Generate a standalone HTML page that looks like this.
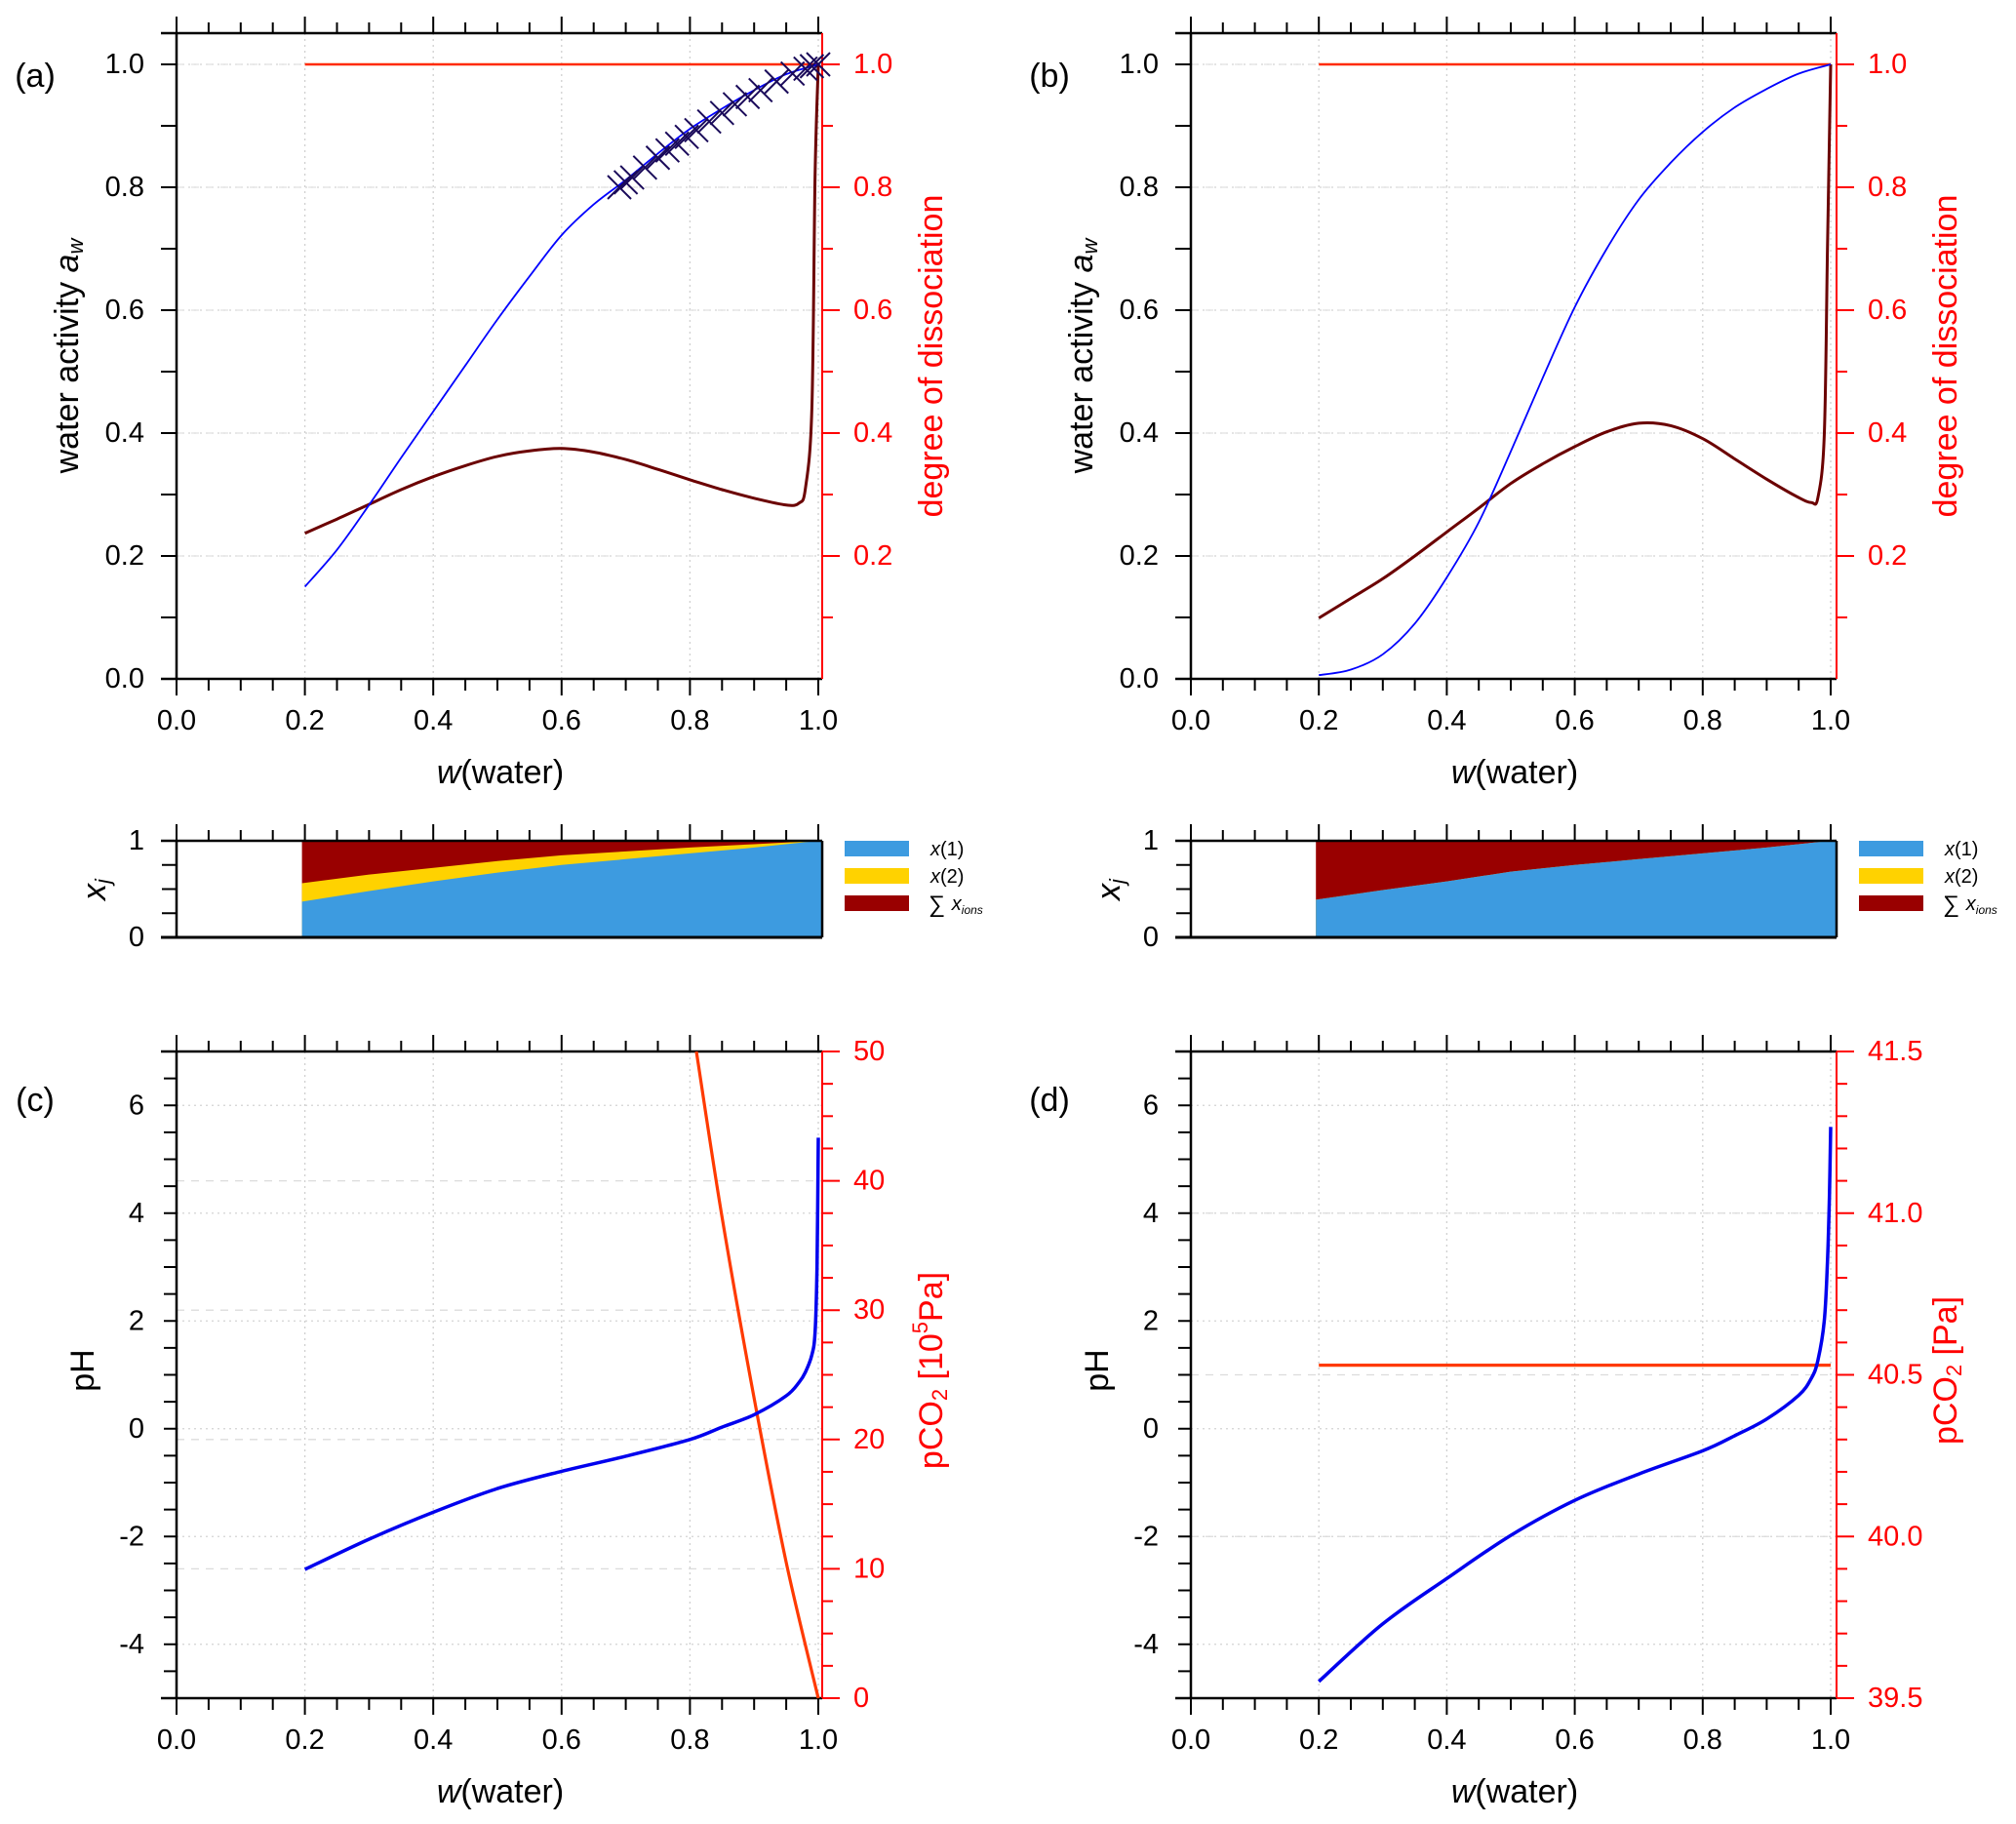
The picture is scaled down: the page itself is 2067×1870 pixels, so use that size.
<!DOCTYPE html>
<html><head><meta charset="utf-8"><style>
html,body{margin:0;padding:0;background:#fff}
svg{display:block}
text{font-family:"Liberation Sans",Arial,sans-serif}
</style></head><body>
<svg id="fig" width="2067" height="1870" viewBox="0 0 2067 1870" xmlns="http://www.w3.org/2000/svg"></svg>
<script>
// ---------- data ----------
const wA = [0.2,0.25,0.3,0.35,0.4,0.45,0.5,0.55,0.6,0.65,0.7,0.75,0.8,0.85,0.9,0.95,1.0];
const awA = [0.15,0.21,0.283,0.36,0.435,0.51,0.585,0.655,0.722,0.772,0.812,0.855,0.895,0.928,0.958,0.984,1.0];
const wMeasA = [0.69,0.70,0.71,0.73,0.75,0.765,0.78,0.795,0.81,0.83,0.85,0.87,0.89,0.91,0.935,0.96,0.98,0.99,1.0];
const awMeasA = [0.80,0.808,0.816,0.832,0.848,0.86,0.871,0.882,0.893,0.907,0.921,0.935,0.947,0.958,0.972,0.985,0.993,0.997,1.0];
const wDissA = [0.2,0.25,0.3,0.35,0.4,0.45,0.5,0.55,0.6,0.65,0.7,0.75,0.8,0.85,0.9,0.95,0.97,0.98,0.99,0.995,1.0];
const dissA = [0.237,0.26,0.284,0.308,0.329,0.347,0.362,0.371,0.375,0.369,0.357,0.341,0.324,0.308,0.294,0.283,0.286,0.31,0.44,0.82,1.0];
const wB = [0.2,0.25,0.3,0.35,0.4,0.45,0.5,0.55,0.6,0.65,0.7,0.75,0.8,0.85,0.9,0.95,1.0];
const awB = [0.006,0.015,0.04,0.09,0.165,0.255,0.37,0.49,0.605,0.7,0.78,0.84,0.89,0.93,0.96,0.985,1.0];
const wDissB = [0.2,0.25,0.3,0.35,0.4,0.45,0.5,0.55,0.6,0.65,0.7,0.75,0.8,0.85,0.9,0.95,0.97,0.98,0.99,0.995,1.0];
const dissB = [0.099,0.131,0.163,0.2,0.239,0.278,0.318,0.35,0.378,0.402,0.416,0.412,0.391,0.358,0.325,0.295,0.287,0.295,0.396,0.7,1.0];
const wDeg = [0.2,1.0];
const degA = [1.0,1.0];
const degB = [1.0,1.0];
const wBar = [0.2,0.3,0.4,0.5,0.6,0.7,0.8,0.9,1.0];
const x1A = [0.37,0.48,0.58,0.67,0.75,0.81,0.87,0.93,1.0];
const x2A = [0.19,0.17,0.14,0.12,0.1,0.08,0.06,0.035,0.0];
const x1B = [0.39,0.49,0.58,0.68,0.75,0.81,0.87,0.93,1.0];
const x2B = [0,0,0,0,0,0,0,0,0];
const wPH = [0.2,0.3,0.4,0.5,0.6,0.7,0.8,0.85,0.9,0.95,0.97,0.98,0.99,0.995,0.998,1.0];
const pHC = [-2.61,-2.05,-1.55,-1.11,-0.79,-0.51,-0.2,0.03,0.26,0.61,0.86,1.05,1.37,1.79,3.0,5.4];
const pHD = [-4.69,-3.62,-2.78,-1.98,-1.33,-0.84,-0.41,-0.13,0.18,0.62,0.94,1.27,2.0,3.1,4.3,5.6];
const wCO2C = [0.81,0.85,0.9,0.95,1.0];
const co2C = [50,37.2,23.2,10.5,0];
const wCO2D = [0.2,1.0];
const co2D = [40.53,40.53];
const xTicks = ["0.0","0.2","0.4","0.6","0.8","1.0"];
const awTicks = ["0.0","0.2","0.4","0.6","0.8","1.0"];
const degTicks = ["0.2","0.4","0.6","0.8","1.0"];
const pHTicks = ["-4","-2","0","2","4","6"];
const co2CTicks = ["0","10","20","30","40","50"];
const co2DTicks = ["39.5","40.0","40.5","41.0","41.5"];

// ---------- helpers ----------
const NS="http://www.w3.org/2000/svg";
const svg=document.getElementById('fig');
function el(tag,attrs,parent){const e=document.createElementNS(NS,tag);for(const k in attrs)e.setAttribute(k,attrs[k]);(parent||svg).appendChild(e);return e;}
function txt(s,x,y,size,fill,anchor,parent,extra){const t=el('text',Object.assign({x:x,y:y,'font-size':size,fill:fill,'text-anchor':anchor||'middle','dominant-baseline':'central'},extra||{}),parent);t.textContent=s;return t;}
function line(x1,y1,x2,y2,stroke,w,parent,dash){const a={x1:x1,y1:y1,x2:x2,y2:y2,stroke:stroke,'stroke-width':w};if(dash)a['stroke-dasharray']=dash;return el('line',a,parent);}
function pathFrom(xs,ys,X,Y){
  const p=xs.map((x,i)=>[X(x),Y(ys[i])]);
  if(p.length<3){return 'M'+p.map(q=>q[0].toFixed(1)+','+q[1].toFixed(1)).join('L');}
  let d='M'+p[0][0].toFixed(1)+','+p[0][1].toFixed(1);
  for(let i=0;i<p.length-1;i++){
    const p0=p[Math.max(0,i-1)],p1=p[i],p2=p[i+1],p3=p[Math.min(p.length-1,i+2)];
    const c1=[p1[0]+(p2[0]-p0[0])/6,p1[1]+(p2[1]-p0[1])/6];
    const c2=[p2[0]-(p3[0]-p1[0])/6,p2[1]-(p3[1]-p1[1])/6];
    d+='C'+c1[0].toFixed(1)+','+c1[1].toFixed(1)+' '+c2[0].toFixed(1)+','+c2[1].toFixed(1)+' '+p2[0].toFixed(1)+','+p2[1].toFixed(1);
  }
  return d;
}

const panels={A:{x0:181,k:658,spine:843},B:{x0:1221,k:656,spine:1883}};
const TF=29, TT=34;
function topAxis(P,yTop,g){
  for(let i=0;i<=20;i++){const w=i*0.05;const x=P.x0+P.k*w;line(x,yTop,x,yTop-(i%4==0?17:11),'#000',2,g);}
  line(P.x0-16,yTop,P.spine,yTop,'#000',2.5,g);
}
function bottomAxis(P,yB,g){
  for(let i=0;i<=20;i++){const w=i*0.05;const x=P.x0+P.k*w;line(x,yB,x,yB+(i%4==0?17:12),'#000',2,g);}
  line(P.x0-16,yB,P.spine,yB,'#000',2.5,g);
  xTicks.forEach(s=>{const x=P.x0+P.k*parseFloat(s);txt(s,x,yB+43,TF,'#000','middle',g);});
  const t=el('text',{x:P.x0+332,y:yB+96,'font-size':TT,'text-anchor':'middle','dominant-baseline':'central',fill:'#000'},g);
  
  const a=el('tspan',{'font-style':'italic'},t);a.textContent='w';const b=el('tspan',{},t);b.textContent='(water)';
}
function vgrid(P,yT,yB,g){for(let i=1;i<=5;i++){const x=P.x0+P.k*i*0.2;line(x,yT,x,yB,'#d0d0d0',1.3,g,'2,4');}}

// ---------- top panels ----------
function topPanel(P,key,aw,wAw,wD,diss,deg,label,meas){
  const g=el('g',{});
  
  
  const Y=v=>696-630*v, X=w=>P.x0+P.k*w;
  vgrid(P,34,696,g);
  for(let i=1;i<=5;i++){line(P.x0,Y(i*0.2),P.spine,Y(i*0.2),'#d4d4d4',1.3,g,'2,4');}
  for(let i=1;i<=5;i++){line(P.x0,Y(i*0.2),P.spine,Y(i*0.2),'#e0e0e0',1.3,g,'8,7');}
  topAxis(P,34,g);bottomAxis(P,696,g);
  line(P.x0,34,P.x0,696,'#000',2.5,g);
  for(let i=0;i<=10;i++){line(P.x0-16,Y(i*0.1),P.x0,Y(i*0.1),'#000',2,g);}
  awTicks.forEach(s=>{txt(s,P.x0-33,Y(parseFloat(s)),TF,'#000','end',g);});
  line(P.spine,34,P.spine,696,'#ff0000',2,g);
  for(let i=1;i<=10;i++){line(P.spine,Y(i*0.1),P.spine+(i%2==0?18:11),Y(i*0.1),'#ff0000',2,g);}
  degTicks.forEach(s=>{txt(s,P.spine+32,Y(parseFloat(s)),TF,'#ff0000','start',g);});
  const yt=el('text',{x:0,y:0,'font-size':TT,'text-anchor':'middle','dominant-baseline':'central',fill:'#000',transform:`translate(${P.x0-112},365) rotate(-90)`},g);
  
  let s1=el('tspan',{},yt);s1.textContent='water activity ';let s2=el('tspan',{'font-style':'italic'},yt);s2.textContent='a';
  let s3=el('tspan',{'font-style':'italic','font-size':22,dy:8},yt);s3.textContent='w';
  const rt=txt('degree of dissociation',0,0,TT,'#ff0000','middle',g,{transform:`translate(${P.spine+112},365) rotate(-90)`});
  
  const pl=txt('('+label+')',P.x0-145,78,34,'#000','middle',g);
  const red=el('path',{d:pathFrom(wDeg,deg,X,Y),stroke:'#ff2a00','stroke-width':2.5,fill:'none'},g);
  
  const br=el('path',{d:pathFrom(wD,diss,X,Y),stroke:'#6b0000','stroke-width':3,fill:'none','stroke-linejoin':'round'},g);
  
  const bl=el('path',{d:pathFrom(wAw,aw,X,Y),stroke:'#0000ff','stroke-width':1.8,fill:'none','stroke-linejoin':'round'},g);
  
  if(meas){meas[0].forEach((w,i)=>{const x=X(w),y=Y(meas[1][i]);
    const m=el('path',{d:`M${x-12},${y-12}L${x+12},${y+12}M${x+12},${y-12}L${x-12},${y+12}`,stroke:'#1a0a5a','stroke-width':2,fill:'none'},g);
    });}
}
topPanel(panels.A,'A',awA,wA,wDissA,dissA,degA,'a',[wMeasA,awMeasA]);
topPanel(panels.B,'B',awB,wB,wDissB,dissB,degB,'b',null);

// ---------- bar panels ----------
function barPanel(P,x1,x2){
  const g=el('g',{});
  
  
  const Y=v=>961-99*v, X=w=>P.x0+P.k*w;
  const xStart=X(wBar[0])-3;
  const ions=el('rect',{x:xStart,y:Y(1),width:P.spine-xStart,height:99,fill:'#990000'},g);
  
  let dY='M'+xStart+','+Y(0);
  wBar.forEach((w,i)=>{dY+='L'+(i==0?xStart:X(w))+','+Y(x1[i]+x2[i]);});
  dY+='L'+P.spine+','+Y(x1[x1.length-1]+x2[x2.length-1])+'L'+P.spine+','+Y(0)+'Z';
  const ye=el('path',{d:dY,fill:'#ffd200'},g);
  let dB='M'+xStart+','+Y(0);
  wBar.forEach((w,i)=>{dB+='L'+(i==0?xStart:X(w))+','+Y(x1[i]);});
  dB+='L'+P.spine+','+Y(x1[x1.length-1])+'L'+P.spine+','+Y(0)+'Z';
  const bl=el('path',{d:dB,fill:'#3d9be0'},g);
  topAxis(P,862,g);
  line(P.x0-16,961,P.spine,961,'#000',3,g);
  line(P.x0,862,P.x0,961,'#000',2.5,g);line(P.spine,862,P.spine,961,'#000',2.5,g);
  for(let i=0;i<=4;i++){line(P.x0-15,Y(i*0.25),P.x0,Y(i*0.25),'#000',2,g);}
  txt('1',P.x0-33,Y(1),TF,'#000','end',g);
  txt('0',P.x0-33,Y(0),TF,'#000','end',g);
  const t=el('text',{x:0,y:0,'font-size':TT,'text-anchor':'middle','dominant-baseline':'central',fill:'#000',transform:`translate(${P.x0-84},912) rotate(-90)`},g);
  
  let a=el('tspan',{'font-style':'italic'},t);a.textContent='x';let b=el('tspan',{'font-style':'italic','font-size':22,dy:8},t);b.textContent='j';
  const lx=P.x0+685;const items=[['#3d9be0','x(1)'],['#ffd200','x(2)'],['#990000','ions']];
  items.forEach((it,i)=>{const y=862+28*i;
    const r=el('rect',{x:lx,y:y,width:66,height:16,fill:it[0]},g);
    const tt=el('text',{x:lx+(i==2?86:88),y:y+9,'font-size':20,'dominant-baseline':'central',fill:'#000'},g);
    
    if(i<2){const s=el('tspan',{'font-style':'italic'},tt);s.textContent='x';const s2=el('tspan',{},tt);s2.textContent=it[1].slice(1);}
    else{const s=el('tspan',{'font-size':24},tt);s.textContent='∑ ';const s2=el('tspan',{'font-style':'italic'},tt);s2.textContent='x';const s3=el('tspan',{'font-style':'italic','font-size':12,dy:6},tt);s3.textContent='ions';}
  });
}
barPanel(panels.A,x1A,x2A);
barPanel(panels.B,x1B,x2B);

// ---------- bottom panels ----------
function bottomPanel(P,pH,wC,co2,R,rTicks,rStep,rMajor,label,rTitleSup){
  const g=el('g',{});
  
  
  const T=1078,B=1741;
  const Y=v=>B-(v+5)*(B-T)/12, X=w=>P.x0+P.k*w;
  const YR=v=>B-(v-R[0])*((B-T)/(R[1]-R[0]));
  vgrid(P,T,B,g);
  pHTicks.forEach(s=>{line(P.x0,Y(+s),P.spine,Y(+s),'#d4d4d4',1.3,g,'2,4');});
  rTicks.forEach(s=>{const v=parseFloat(s);if(v>R[0]&&v<R[1])line(P.x0,YR(v),P.spine,YR(v),'#dcdcdc',1.3,g,'8,7');});
  topAxis(P,T,g);bottomAxis(P,B,g);
  line(P.x0,T,P.x0,B,'#000',2.5,g);
  for(let v=-5;v<=7.001;v+=0.5){line(P.x0-13,Y(v),P.x0,Y(v),'#000',2,g);}
  pHTicks.forEach(s=>{txt(s,P.x0-33,Y(+s),TF,'#000','end',g);});
  line(P.spine,T,P.spine,B,'#ff0000',2,g);
  const n=Math.round((R[1]-R[0])/rStep);
  for(let i=0;i<=n;i++){const v=R[0]+i*rStep;const maj=Math.abs(v/rMajor-Math.round(v/rMajor))<1e-6;line(P.spine,YR(v),P.spine+(maj?18:11),YR(v),'#ff0000',2,g);}
  rTicks.forEach(s=>{txt(s,P.spine+32,YR(parseFloat(s)),TF,'#ff0000','start',g);});
  txt('pH',0,0,TT,'#000','middle',g,{transform:`translate(${P.x0-96},1405) rotate(-90)`});
  const rt=el('text',{x:0,y:0,'font-size':TT,'text-anchor':'middle','dominant-baseline':'central',fill:'#ff0000',transform:`translate(${P.spine+112},1405) rotate(-90)`},g);
  
  let a=el('tspan',{},rt);a.textContent='pCO';let b=el('tspan',{'font-size':22,dy:8},rt);b.textContent='2';
  if(rTitleSup){let c=el('tspan',{dy:-8},rt);c.textContent=' [10';let d=el('tspan',{'font-size':22,dy:-12},rt);d.textContent='5';let e=el('tspan',{dy:12},rt);e.textContent='Pa]';}
  else{let c=el('tspan',{dy:-8},rt);c.textContent=' [Pa]';}
  txt('('+label+')',P.x0-145,1128,34,'#000','middle',g);
  const rl=el('path',{d:pathFrom(wC,co2,X,YR),stroke:'#ff3a00','stroke-width':3.2,fill:'none'},g);
  
  const bl=el('path',{d:pathFrom(wPH,pH,X,Y),stroke:'#0000ee','stroke-width':3.5,fill:'none','stroke-linejoin':'round'},g);
  
}
bottomPanel(panels.A,pHC,wCO2C,co2C,[0,50],co2CTicks,2.5,10,'c',true);
bottomPanel(panels.B,pHD,wCO2D,co2D,[39.5,41.5],co2DTicks,0.1,0.5,'d',false);
</script>
</body></html>
